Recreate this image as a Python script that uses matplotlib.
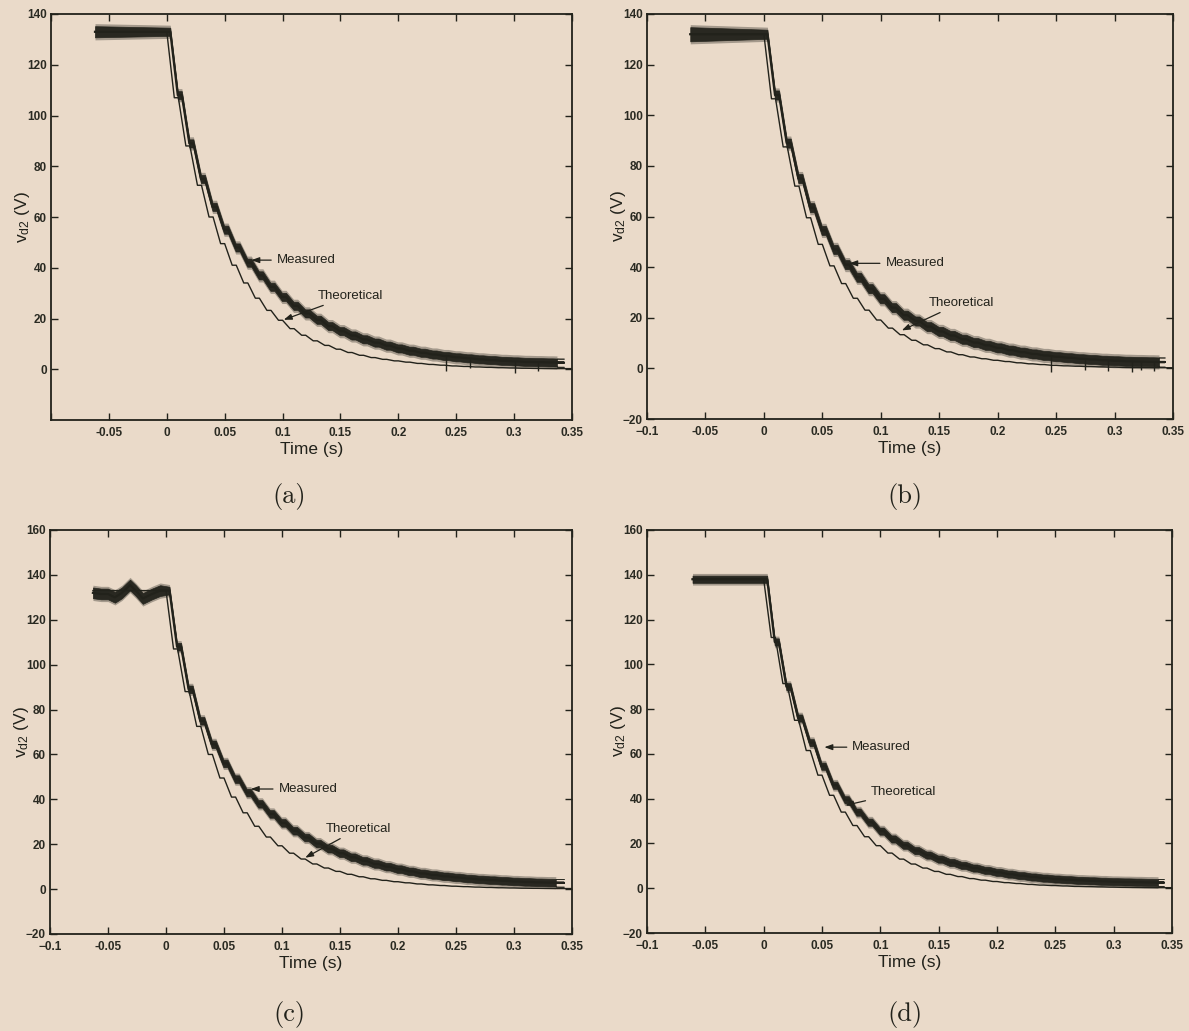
import numpy as np
import matplotlib
matplotlib.use("Agg")
import matplotlib.pyplot as plt
from matplotlib.transforms import ScaledTranslation

plt.rcParams["font.family"] = ["Liberation Sans", "DejaVu Sans"]
plt.rcParams["mathtext.fontset"] = "custom"
plt.rcParams["mathtext.rm"] = "Liberation Sans"
plt.rcParams["mathtext.it"] = "Liberation Sans:italic"

BG = "#eadac9"
INK = "#22221b"

# 10 ms switching steps after the load change at t = 0
STEP_T = np.round(np.arange(0, 0.345, 0.01), 2)

# ---- panel (a) ----
A_PRE_T = [-0.062, 0.0]
A_PRE_V = [133, 133]
A_THEO = [133, 107, 88, 72.5, 60, 49.5, 41, 34, 28, 23.2, 19.3, 16, 13.4, 11.2, 9.4,
          7.9, 6.6, 5.5, 4.6, 3.9, 3.3, 2.8, 2.3, 1.9, 1.6, 1.3, 1.1, 0.9, 0.75, 0.6,
          0.5, 0.4, 0.35, 0.3, 0.25]
A_MEAS = [133, 108, 89, 75, 64, 55, 48, 42, 37, 32.5, 28.5, 25, 22, 19.5, 17, 15,
          13.3, 11.8, 10.5, 9.3, 8.2, 7.3, 6.5, 5.8, 5.2, 4.7, 4.3, 3.9, 3.6, 3.3,
          3.1, 2.9, 2.8, 2.7, 2.6]
A_SPIKE_T = [0.241, 0.262, 0.301, 0.321]
A_SPIKE_V = [-0.5, 0.5, -1.5, -0.5]

# ---- panel (b) ----
B_PRE_T = [-0.063, 0.0]
B_PRE_V = [132, 132]
B_THEO = [132, 106.5, 87.5, 72, 59.5, 49, 40.5, 33.5, 27.7, 23, 19.1, 15.9, 13.3,
          11.1, 9.3, 7.8, 6.5, 5.4, 4.5, 3.8, 3.2, 2.7, 2.2, 1.8, 1.5, 1.2, 1.0,
          0.85, 0.7, 0.6, 0.5, 0.4, 0.35, 0.3, 0.25]
B_MEAS = [132, 108, 89, 75, 63.5, 54.5, 47, 41, 36, 31.5, 27.5, 24, 21, 18.7, 16.5,
          14.6, 13, 11.5, 10.2, 9.1, 8.1, 7.2, 6.4, 5.7, 5.1, 4.6, 4.2, 3.8, 3.5,
          3.2, 3.0, 2.8, 2.7, 2.6, 2.5]
B_SPIKE_T = [0.246, 0.275, 0.294, 0.315, 0.323, 0.334]
B_SPIKE_V = [-1.3, -0.5, -1.0, -1.3, -0.5, -1.0]

# ---- panel (c) ----
C_PRE_T = [-0.063, -0.056, -0.05, -0.044, -0.038, -0.031, -0.026, -0.02, -0.012,
           -0.005, 0.0]
C_PRE_V = [132, 131.5, 131.5, 130, 132, 135.5, 133, 129.5, 131.5, 133, 133]
C_THEO = [133, 107, 88, 72.5, 60, 49.5, 41, 34, 28, 23.2, 19.3, 16, 13.4, 11.2, 9.4,
          7.9, 6.6, 5.5, 4.6, 3.9, 3.3, 2.8, 2.3, 1.9, 1.6, 1.3, 1.1, 0.9, 0.75, 0.6,
          0.5, 0.4, 0.35, 0.3, 0.25]
C_MEAS = [133, 108, 89, 75, 64.5, 56, 49, 43, 38, 33.5, 29.5, 26, 23, 20.3, 18,
          16, 14.2, 12.6, 11.2, 10, 8.9, 7.9, 7.0, 6.3, 5.7, 5.2, 4.7, 4.3, 4.0,
          3.7, 3.4, 3.2, 3.0, 2.9, 2.8]
C_SPIKE_T = []
C_SPIKE_V = []

# ---- panel (d) ----
D_PRE_T = [-0.061, 0.0]
D_PRE_V = [138, 138]
D_THEO = [138, 112, 91.4, 75, 61.5, 50.5, 41.5, 34, 28, 23, 19, 15.7, 13, 10.8, 9,
          7.5, 6.2, 5.2, 4.3, 3.6, 3.0, 2.5, 2.1, 1.7, 1.4, 1.2, 1.0, 0.8, 0.7, 0.6,
          0.5, 0.4, 0.35, 0.3, 0.25]
D_MEAS = [138, 110, 90, 76, 65, 54.5, 46, 39.5, 34, 29.5, 25.5, 22, 19.2, 16.8,
          14.8, 13, 11.5, 10.2, 9, 8, 7.1, 6.3, 5.6, 5.0, 4.5, 4.1, 3.8, 3.5, 3.3,
          3.1, 2.9, 2.8, 2.7, 2.6, 2.5]
D_SPIKE_T = []
D_SPIKE_V = []

PANELS = [
    dict(pre_t=A_PRE_T, pre_v=A_PRE_V, theo=A_THEO, meas=A_MEAS, meas_end=0.337,
         spike_t=A_SPIKE_T, spike_v=A_SPIKE_V,
         noise_pre=2.2, noise=1.6, ylim=(-20, 140), yticks=range(0, 141, 20),
         show_corner=False, tag="(a)",
         meas_lbl=(0.095, 43), meas_pt=(0.073, 43),
         theo_lbl=(0.13, 29), theo_pt=(0.101, 19.5)),
    dict(pre_t=B_PRE_T, pre_v=B_PRE_V, theo=B_THEO, meas=B_MEAS, meas_end=0.338,
         spike_t=B_SPIKE_T, spike_v=B_SPIKE_V,
         noise_pre=2.8, noise=1.8, ylim=(-20, 140), yticks=range(-20, 141, 20),
         show_corner=True, tag="(b)",
         meas_lbl=(0.104, 41.5), meas_pt=(0.073, 41.5),
         theo_lbl=(0.141, 26), theo_pt=(0.118, 15)),
    dict(pre_t=C_PRE_T, pre_v=C_PRE_V, theo=C_THEO, meas=C_MEAS, meas_end=0.336,
         spike_t=C_SPIKE_T, spike_v=C_SPIKE_V,
         noise_pre=2.4, noise=1.7, ylim=(-20, 160), yticks=range(-20, 161, 20),
         show_corner=True, tag="(c)",
         meas_lbl=(0.097, 44.6), meas_pt=(0.073, 44.6),
         theo_lbl=(0.138, 27), theo_pt=(0.12, 14)),
    dict(pre_t=D_PRE_T, pre_v=D_PRE_V, theo=D_THEO, meas=D_MEAS, meas_end=0.338,
         spike_t=D_SPIKE_T, spike_v=D_SPIKE_V,
         noise_pre=1.6, noise=1.6, ylim=(-20, 160), yticks=range(-20, 161, 20),
         show_corner=True, tag="(d)",
         meas_lbl=(0.076, 63), meas_pt=(0.052, 63),
         theo_lbl=(0.092, 43), theo_pt=(0.07, 37)),
]


def staircase(levels, lag, drop, t_end):
    """Discharge staircase: fall to the next level, then hold until the next step."""
    xs, ys = [lag], [levels[0]]
    for k in range(1, len(levels)):
        xs += [STEP_T[k - 1] + lag + drop, STEP_T[k] + lag]
        ys += [levels[k], levels[k]]
    xs.append(t_end)
    ys.append(levels[-1])
    return np.array(xs), np.array(ys)


fig = plt.figure(figsize=(11.89, 10.31), dpi=100, facecolor=BG)
W, H = 1189, 1031
boxes = [(51, 14, 572, 420), (647, 14, 1173, 419),
         (50, 530, 572, 934), (647, 530, 1172, 933)]
tag_pos = [(289, 497), (905, 497), (289, 1015), (905, 1015)]

for p, (x0, y0, x1, y1), (tx, ty) in zip(PANELS, boxes, tag_pos):
    ax = fig.add_axes([x0 / W, 1 - y1 / H, (x1 - x0) / W, (y1 - y0) / H])
    ax.set_facecolor(BG)

    # theoretical response
    tt, tv = staircase(p["theo"], 0.0, 0.0065, 0.35)
    tt = np.concatenate([[p["pre_t"][0]], tt])
    tv = np.concatenate([[p["theo"][0]], tv])
    ax.plot(tt, tv, color=INK, lw=1.0, zorder=2)

    # measured response: pre-step record, then the lagged staircase
    mt, mv = staircase(p["meas"], 0.003, 0.0065, p["meas_end"])
    mt = np.concatenate([p["pre_t"][:-1], mt])
    mv = np.concatenate([p["pre_v"][:-1], mv])
    wid = np.where(mt < 0.003, p["noise_pre"], p["noise"])
    ax.fill_between(mt, mv - wid - 1.0, mv + wid + 1.0, color=INK, lw=0,
                    alpha=0.35, zorder=3)
    ax.fill_between(mt, mv - wid, mv + wid, color=INK, lw=0.5, alpha=0.95, zorder=3)
    ax.plot(mt, mv, color=INK, lw=1.6, zorder=3)
    if p["spike_t"]:
        base = np.interp(p["spike_t"], mt, mv)
        ax.vlines(p["spike_t"], p["spike_v"], base, color=INK, lw=1.0, zorder=3)

    ax.set_xlim(-0.1, 0.35)
    ax.set_ylim(*p["ylim"])
    xt = [-0.1, -0.05, 0, 0.05, 0.1, 0.15, 0.2, 0.25, 0.3, 0.35]
    ax.set_xticks(xt)
    ax.set_xticklabels(["-0.1", "-0.05", "0", "0.05", "0.1", "0.15",
                        "0.2", "0.25", "0.3", "0.35"])
    yt = list(p["yticks"])
    ax.set_yticks(yt)
    ax.set_yticklabels([("\u2212%d" % -v) if v < 0 else str(v) for v in yt])
    xlabs = ax.get_xticklabels()
    ylabs = ax.get_yticklabels()
    if not p["show_corner"]:
        xlabs[0].set_visible(False)
    else:
        # corner labels sit apart, the y one just above the x one
        xlabs[0].set_text("\u22120.1")
        ax.set_xticklabels([lab.get_text() for lab in xlabs])
        xlabs = ax.get_xticklabels()
        ylabs[0].set_transform(ylabs[0].get_transform() +
                               ScaledTranslation(0, 4 / 72, fig.dpi_scale_trans))

    ax.tick_params(direction="in", length=5, width=1.0, colors=INK,
                   labelsize=8.5, top=True, right=True)
    ax.tick_params(axis="x", pad=5)
    ax.tick_params(axis="y", pad=3)
    for lab in xlabs + ylabs:
        lab.set_fontweight("bold")
        lab.set_color("#2a2a22")
    for s in ax.spines.values():
        s.set_color(INK)
        s.set_linewidth(1.3)

    ax.set_xlabel("Time (s)", fontsize=12.5, color=INK, labelpad=2)
    ax.set_ylabel(r"v$_{\mathrm{d2}}$ (V)", fontsize=12.5, color=INK)
    ax.yaxis.set_label_coords(-0.037, 0.5)

    ap = dict(arrowstyle="-|>,head_length=0.5,head_width=0.18", color=INK, lw=0.9,
              shrinkA=2, shrinkB=0)
    ax.annotate("Measured", xy=p["meas_pt"], xytext=p["meas_lbl"], fontsize=9.5,
                color=INK, va="center", ha="left", arrowprops=ap, zorder=5)
    ax.annotate("Theoretical", xy=p["theo_pt"], xytext=p["theo_lbl"], fontsize=9.5,
                color=INK, va="center", ha="left", arrowprops=ap, zorder=5)

    fig.text(tx / W, 1 - ty / H, p["tag"], fontsize=19, family="cmr10",
             ha="center", va="center", color=INK)

fig.savefig("out.png", dpi=100, facecolor=BG)
